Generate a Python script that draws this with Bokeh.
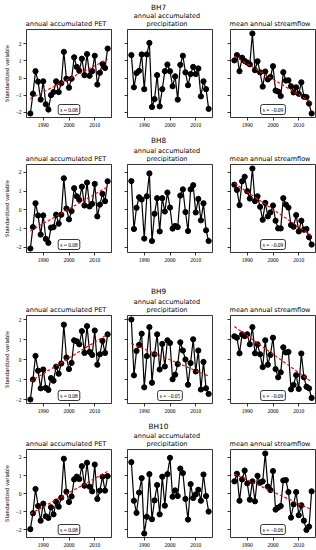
from bokeh.plotting import figure
from bokeh.layouts import column, row
from bokeh.models import Label, FixedTicker, Range1d
from bokeh.embed import file_html
from bokeh.resources import INLINE

years = list(range(1985, 2016))
basins = ["BH7", "BH8", "BH9", "BH10"]
x_ticks = [1990, 2000, 2010]
y_ticks = [-2, -1, 0, 1, 2]
y_tick_labels = {-2: "\u22122", -1: "\u22121", 0: "0", 1: "1", 2: "2"}
pet_title = ["annual accumulated PET"]
prec_title = ["annual accumulated", "precipitation"]
flow_title = ["mean annual streamflow"]
y_label = "Standardized variable"

# ---- BH7 ----
bh7_pet = [-2.07, -0.92, 0.40, -0.21, -1.26, -0.19, -1.53, -1.84, -1.00, -0.82, -0.19,
           -0.82, -0.30, 1.53, -0.04, -0.56, -0.04, 1.21, 0.65, 0.42, 1.13, 0.17, 1.40,
           0.13, 0.40, 1.30, -0.38, 0.31, 0.82, 0.59, 1.72]
bh7_prec = [1.34, -0.54, 0.29, 0.42, 1.38, -0.65, 1.38, 2.05, -1.69, -1.23, 0.17, -1.65,
            -0.65, 0.40, 0.79, 0.40, -0.48, 0.10, -1.26, 0.77, 1.30, 0.33, -0.42, 0.23,
            0.65, 0.23, 0.56, -1.07, -0.19, -0.65, -1.80]
bh7_flow = [1.03, 1.34, 0.40, 1.19, 1.00, 0.90, 0.80, 2.60, 0.46, 0.98, 0.33, -0.50, 0.38,
            -0.08, 0.06, 0.69, -0.73, -0.79, -1.05, 0.34, -0.15, -0.13, -0.48, -0.84,
            -0.54, -0.92, -0.25, -1.09, -1.11, -1.49, -2.07]
bh7_pet_trend = [-1.20, 1.10]
bh7_flow_trend = [1.28, -1.42]

# ---- BH8 ----
bh8_pet = [-2.06, -0.92, 0.35, -0.30, -1.32, -0.30, -1.55, -1.76, -0.95, -0.92, -0.26,
           -0.74, -0.26, 1.68, 0.07, -0.51, -0.07, 1.15, 0.72, 0.53, 1.23, 0.23, 1.45,
           0.18, 0.32, 1.38, -0.35, 0.28, 0.85, 0.46, 1.52]
bh8_prec = [1.53, -1.02, 0.11, 0.67, 0.55, -1.53, 0.72, 1.94, -1.66, -0.21, 0.62, -1.15,
            0.62, -0.09, 0.92, 0.12, -1.00, -0.86, -0.92, 0.76, 1.09, -0.12, -1.13, 1.09,
            1.31, -0.14, 0.58, -0.56, 0.35, -1.09, -1.66]
bh8_flow = [1.34, 1.06, 0.25, 1.52, 1.76, 0.99, 0.60, 2.20, 0.46, 0.72, 0.16, -0.53, 0.37,
            -0.35, -0.14, 0.23, -0.58, -0.99, -0.99, 0.62, 0.28, 0.12, -0.81, -0.90,
            -0.28, -1.15, -0.58, -1.06, -1.02, -1.46, -1.85]
bh8_pet_trend = [-1.12, 1.22]
bh8_flow_trend = [1.42, -1.38]

# ---- BH9 ----
bh9_pet = [-2.00, -1.00, 0.18, -0.56, -1.44, -0.50, -1.42, -1.52, -0.93, -1.06, -0.36,
           -0.71, -0.20, 1.74, 0.10, -0.48, -0.17, 0.96, 0.91, 0.76, 1.42, 0.33, 1.67,
           0.38, 0.23, 1.45, -0.26, 0.26, 0.93, 0.33, 1.26]
bh9_prec = [2.00, -0.79, 0.43, 0.73, 1.29, -1.39, 0.17, 1.62, -1.16, 0.26, 1.26, -0.50,
            0.78, -0.35, 0.96, 0.83, -0.99, -0.76, -0.23, 0.86, 0.45, 0.00, -1.26, -0.18,
            1.01, -0.60, 0.45, -1.50, -0.12, -1.44, -1.72]
bh9_flow = [1.16, 1.09, 0.31, 1.26, 1.17, 1.26, 0.76, 1.62, 0.31, 0.76, 0.26, -0.38, 0.96,
            -0.26, 0.23, 1.09, -0.48, -0.89, -0.64, 0.61, 0.35, 0.38, -1.49, -1.27,
            -0.78, -1.47, 0.30, -0.89, -1.36, -1.44, -1.92]
bh9_pet_trend = [-1.10, 1.26]
bh9_prec_trend = [0.80, -0.83]
bh9_flow_trend = [1.65, -1.12]

# ---- BH10 ----
bh10_pet = [-1.96, -1.08, 0.26, -0.68, -1.49, -0.55, -1.25, -1.34, -0.75, -1.14, -0.44,
            -0.72, -0.22, 1.93, 0.11, -0.46, -0.15, 0.79, 0.94, 0.81, 1.52, 0.44, 1.71,
            0.39, 0.13, 1.61, -0.29, 0.17, 0.94, 0.17, 0.97]
bh10_prec = [1.74, -0.39, -1.06, 0.06, 0.86, -2.20, -1.28, 1.08, -1.41, -0.37, 0.48,
             -1.14, 0.94, -0.66, 1.08, 1.98, -0.17, 0.18, -0.13, 1.39, 1.14, -0.29, -1.43,
             0.53, -0.24, -0.04, 0.22, -0.39, 1.06, -0.13, -0.99]
bh10_flow = [0.68, 1.10, -0.39, 0.79, 1.28, 0.57, -0.33, 0.68, -0.42, 0.99, 0.61, 0.68,
             2.22, 0.39, 0.20, 1.25, -0.88, -0.77, -0.68, 0.73, 0.75, 0.09, -1.32, -0.59,
             0.09, -1.19, -0.64, -1.49, -2.00, -1.82, 0.13]
bh10_pet_trend = [-1.12, 1.23]
bh10_flow_trend = [1.08, -0.88]

bh7_slopes = ["0.08", None, "\u22120.09"]
bh8_slopes = ["0.08", None, "\u22120.09"]
bh9_slopes = ["0.08", "\u22120.05", "\u22120.09"]
bh10_slopes = ["0.08", None, "\u22120.06"]

rows_data = [
    ("BH7", [bh7_pet, bh7_prec, bh7_flow], [bh7_pet_trend, None, bh7_flow_trend], bh7_slopes),
    ("BH8", [bh8_pet, bh8_prec, bh8_flow], [bh8_pet_trend, None, bh8_flow_trend], bh8_slopes),
    ("BH9", [bh9_pet, bh9_prec, bh9_flow], [bh9_pet_trend, bh9_prec_trend, bh9_flow_trend], bh9_slopes),
    ("BH10", [bh10_pet, bh10_prec, bh10_flow], [bh10_pet_trend, None, bh10_flow_trend], bh10_slopes),
]

# layout (pixels)
FRAME_W = 85
FRAME_H = 88
col_borders = [(23, 8), (8, 9), (9, 3)]
TOTAL_W = sum(l + FRAME_W + r for (l, r) in col_borders)
header_heights = [27, 31, 35, 32]
row_bottoms = [14, 26, 12, 12]
ROW_TOP = 2
LINE_OFFSETS = [5.4, 13.6]              # title line centres above frame top
SUPTITLE_OFFSETS = [22.3, 23.6, 24.3, 23.3]

TITLE_FONT = "DejaVu Sans"
TICK_FONT = "Liberation Serif"

frame_centres = []
_x = 0
for (l, r) in col_borders:
    frame_centres.append(_x + l + FRAME_W / 2)
    _x += l + FRAME_W + r


def header(basin, h, sup_dy):
    p = figure(width=TOTAL_W, height=h, output_backend="svg", toolbar_location=None,
               title=None, x_axis_location=None, y_axis_location=None,
               x_range=Range1d(0, TOTAL_W), y_range=Range1d(0, h),
               min_border=0, min_border_left=0, min_border_right=0,
               min_border_top=0, min_border_bottom=0)
    p.outline_line_color = None
    p.xgrid.visible = False
    p.ygrid.visible = False
    p.background_fill_color = "white"
    p.border_fill_color = "white"
    base = -ROW_TOP

    def put(x, dy, text, size):
        p.add_layout(Label(x=x, y=dy + base, x_units="screen", y_units="screen",
                           text=text, text_align="center", text_baseline="middle",
                           text_font=TITLE_FONT, text_font_size=size, text_color="black"))

    for ci, titles in enumerate([pet_title, prec_title, flow_title]):
        for k, t in enumerate(reversed(titles)):
            put(frame_centres[ci], LINE_OFFSETS[k], t, "6.5px")
    put(158, sup_dy, basin, "7.3px")
    return p


def make_panel(ci, series, trend, slope, y_lo, y_hi, bottom):
    left, right = col_borders[ci]
    p = figure(frame_width=FRAME_W, frame_height=FRAME_H, output_backend="svg",
               toolbar_location=None, title=None,
               x_range=Range1d(years[0] - 1.5, years[-1] + 1.5),
               y_range=Range1d(y_lo, y_hi),
               min_border_left=left, min_border_right=right,
               min_border_top=ROW_TOP, min_border_bottom=bottom)
    p.xgrid.visible = False
    p.ygrid.visible = False
    p.outline_line_color = "black"
    p.outline_line_width = 0.8
    p.background_fill_color = "white"
    p.border_fill_color = "white"

    for ax in (p.xaxis[0], p.yaxis[0]):
        ax.axis_line_color = None
        ax.major_tick_out = 3
        ax.major_tick_in = 0
        ax.minor_tick_out = 0
        ax.minor_tick_in = 0
        ax.major_tick_line_color = "black"
        ax.major_tick_line_width = 0.8
        ax.major_label_text_font = TICK_FONT
        ax.major_label_text_font_size = "5.5px"
        ax.major_label_text_color = "black"
        ax.major_label_standoff = 2
    p.xaxis.ticker = FixedTicker(ticks=x_ticks)
    p.yaxis.ticker = FixedTicker(ticks=y_ticks)
    p.yaxis.major_label_overrides = y_tick_labels
    if ci == 0:
        p.yaxis.axis_label = y_label
        p.yaxis.axis_label_text_font = TITLE_FONT
        p.yaxis.axis_label_text_font_size = "5.2px"
        p.yaxis.axis_label_text_font_style = "normal"
        p.yaxis.axis_label_text_color = "black"
        p.yaxis.axis_label_standoff = 3
    else:
        p.yaxis.major_label_text_color = None
        p.yaxis.major_label_text_alpha = 0

    p.line(years, series, line_color="black", line_width=1.2)
    p.scatter(years, series, size=5.2, fill_color="black", line_color="black")
    if trend is not None:
        p.line([years[0], years[-1]], trend, line_color="red", line_width=1.2,
               line_dash="3 2")
    if slope is not None:
        lab = Label(x=FRAME_W / 2, y=3, x_units="screen", y_units="screen",
                    text="s = " + slope, text_align="center", text_baseline="bottom",
                    text_font=TICK_FONT, text_font_size="5.5px", text_color="black",
                    border_line_color="black", border_line_width=0.8,
                    background_fill_color="white", padding=2, border_radius=2)
        p.add_layout(lab)
    return p


blocks = []
for ri, (basin, series_list, trends, slope_list) in enumerate(rows_data):
    lo = min(min(s) for s in series_list)
    hi = max(max(s) for s in series_list)
    pad = 0.05 * (hi - lo)
    blocks.append(header(basin, header_heights[ri], SUPTITLE_OFFSETS[ri]))
    figs = [make_panel(ci, series_list[ci], trends[ci], slope_list[ci],
                       lo - pad, hi + pad, row_bottoms[ri]) for ci in range(3)]
    blocks.append(row(*figs))

layout = column(*blocks)
open("out.html", "w").write(file_html(layout, INLINE))
